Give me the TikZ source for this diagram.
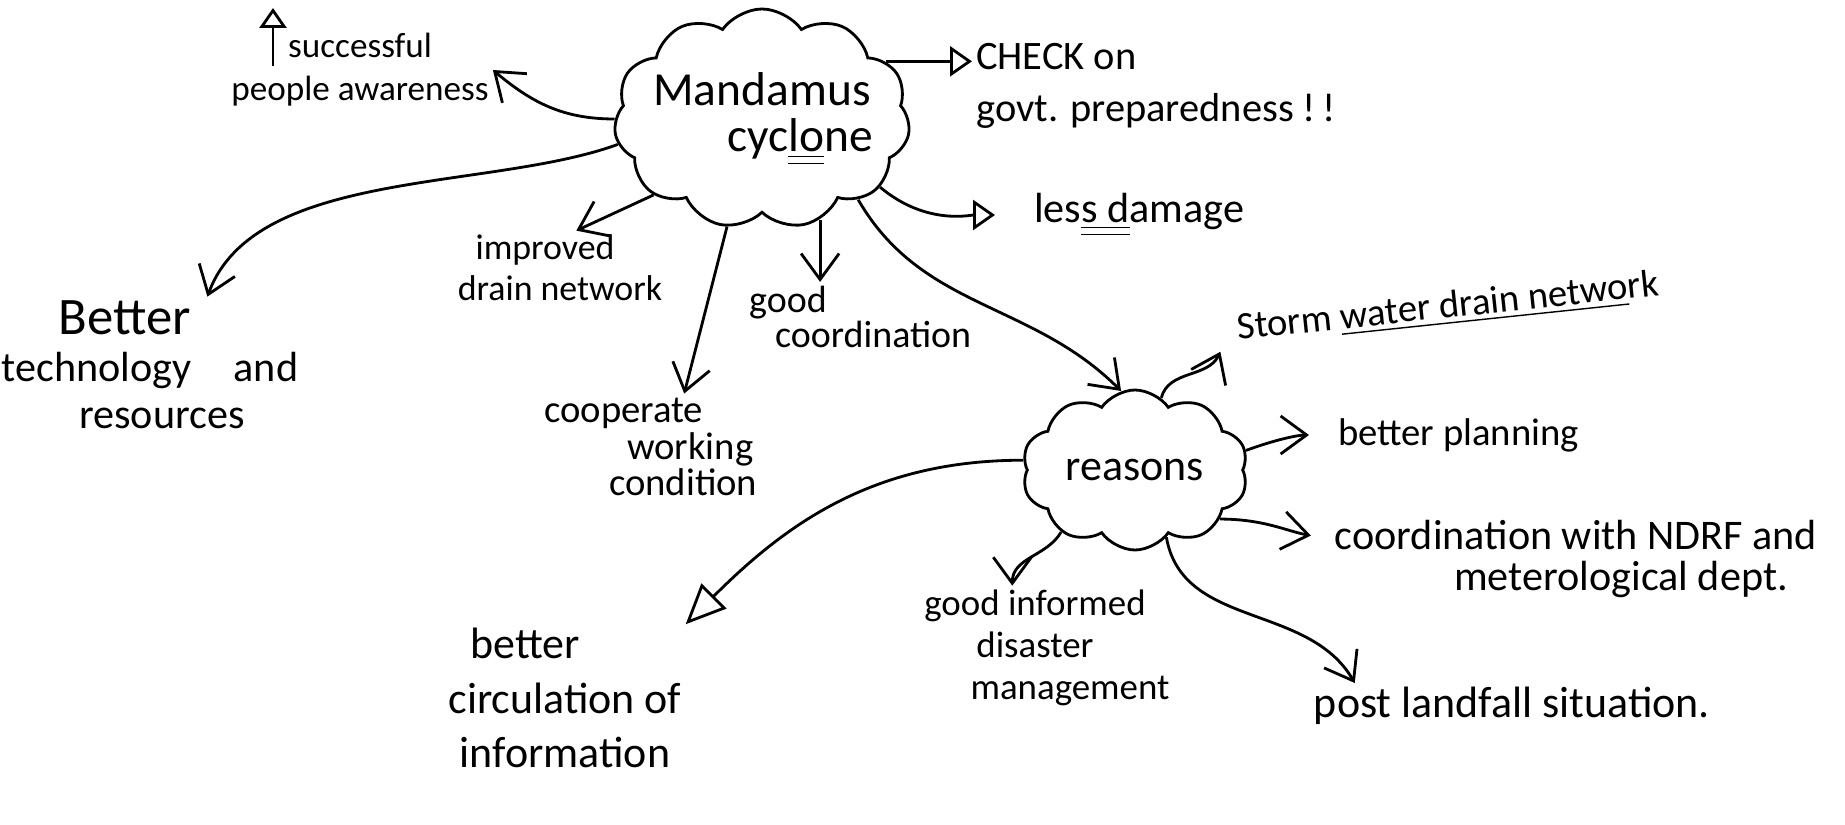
\documentclass[tikz,border=0pt]{standalone}
\usepackage{fontspec}
\setmainfont{Carlito}
\usetikzlibrary{shapes.symbols,arrows.meta}

\begin{document}
\begin{tikzpicture}[x=0.1mm,y=-0.1mm]
\tikzstyle{fleche}=[-{Straight Barb[length=2.6mm,width=3.8mm]},thick]
\tikzstyle{ouvert}=[-{Triangle[open,length=2.2mm,width=3mm]},thick]
\tikzset{nuage/.style={draw,thick,cloud,cloud puffs=#1,cloud puff arc=110,cloud ignores aspect,inner sep=0pt,align=center},
nuage/.default={11}}
\tikzset{idee/.style 2 args={align=center,inner sep=1pt,font=\fontsize{#1}{#2}\selectfont}}
\useasboundingbox (0,0) rectangle (1845,825);

% les deux nuages
\node[nuage,inner xsep=-2.5mm,inner ysep=-1.5mm,minimum width=29.6mm,minimum height=22mm,font=\fontsize{13.5}{13}\selectfont] (M) at (762,119) {Mandamus\\\hspace*{7.6mm}cyc\underline{\underline{lo}}ne};
\node[nuage=10,minimum width=22.6mm,minimum height=16mm,font=\fontsize{12.5}{14}\selectfont] (R) at (1135,470) {reasons};

% autour de Mandamus
\node[idee={10}{12.2}] (M1) at (360,70) {successful\\people awareness};
\node[idee={11.5}{15},align=left,anchor=west] (M2) at (972,86) {CHECK on\\govt. preparedness !\,!};
\node[idee={12}{14},anchor=west] (M3) at (1030,215) {les\underline{\underline{s d}}amage};
\node[idee={12}{13.4}] (M4) at (150,365) {{\fontsize{15}{13.4}\selectfont Better}\hspace*{5mm}\\technology\quad and\\\hspace*{2.4mm}resources};
\node[idee={10.2}{11.7}] (M5) at (545,268) {improved\\\hspace*{3mm}drain network};
\node[idee={10.8}{10},align=left,anchor=west] (M6) at (745,317) {good\\\hspace*{2.6mm}coordination};
\node[idee={11}{10.5},align=left,anchor=west] (M7) at (540,447) {cooperate\\\hspace*{8.3mm}working\\\hspace*{6.5mm}condition};

% autour de reasons
\node[idee={11}{13},rotate=6] (R1) at (1448,308) {Storm \underline{water drain netwo}rk};
\node[idee={11}{13},anchor=west] (R2) at (1334,435) {better planning};
\node[idee={12}{11.5}] (R3) at (1576,559) {coordination with NDRF and\\\hspace*{9mm}meterological dept.};
\node[idee={12.5}{14}] (R4) at (1512,706) {post landfall situation.};
\node[idee={10.5}{12}] (R5) at (1035,648) {good informed\\disaster\\\hspace*{7mm}management};
\node[idee={12.5}{15.4}] (R6) at (565,698) {better\hspace*{8mm}\\circulation of\\information};

\coordinate (hausse) at (273,66);
\coordinate (hausse fin) at (273,8);
\draw[ouvert,-{Triangle[open,length=2mm,width=2.7mm]}] (hausse) -- (hausse fin);

\draw[fleche] (M.180) to[out=180,in=-40] (M1.east);
\draw[ouvert] (M.25) -- (M.25 -| M2.west);
\draw[ouvert,shorten >=3.5mm] (M.-30) to[out=-40,in=180] (M3.west);
\draw[fleche] (M.190) to[out=-160,in=70,looseness=0.8] (M4.50);
\draw[fleche] (M.-145) -- (M5.50);
\draw[fleche] (M.-60) -- (M.-60 |- M6.north);
\draw[fleche] (M.-108) -- (M7.58);
\draw[fleche] (M.-40) to[out=-60,in=135] (R.100);

\draw[fleche] (R.70) to[out=75,in=-115] ([xshift=-1.5mm]R1.south west);
\draw[fleche,shorten >=2.5mm] (R.10) to[out=20,in=180] (R2.west);
\draw[fleche,shorten >=2mm] (R.-30) to[out=0,in=170] ([yshift=2mm]R3.west);
\draw[fleche] (R.-65) to[out=-80,in=120] ([xshift=4.5mm]R4.north west);
\draw[fleche] (R.-140) to[out=-120,in=90] (R5.110);
\draw[ouvert,-{Triangle[open,length=4mm,width=3.5mm]}] (R.175) to[out=180,in=45] (R6.north east);
\end{tikzpicture}
\end{document}
